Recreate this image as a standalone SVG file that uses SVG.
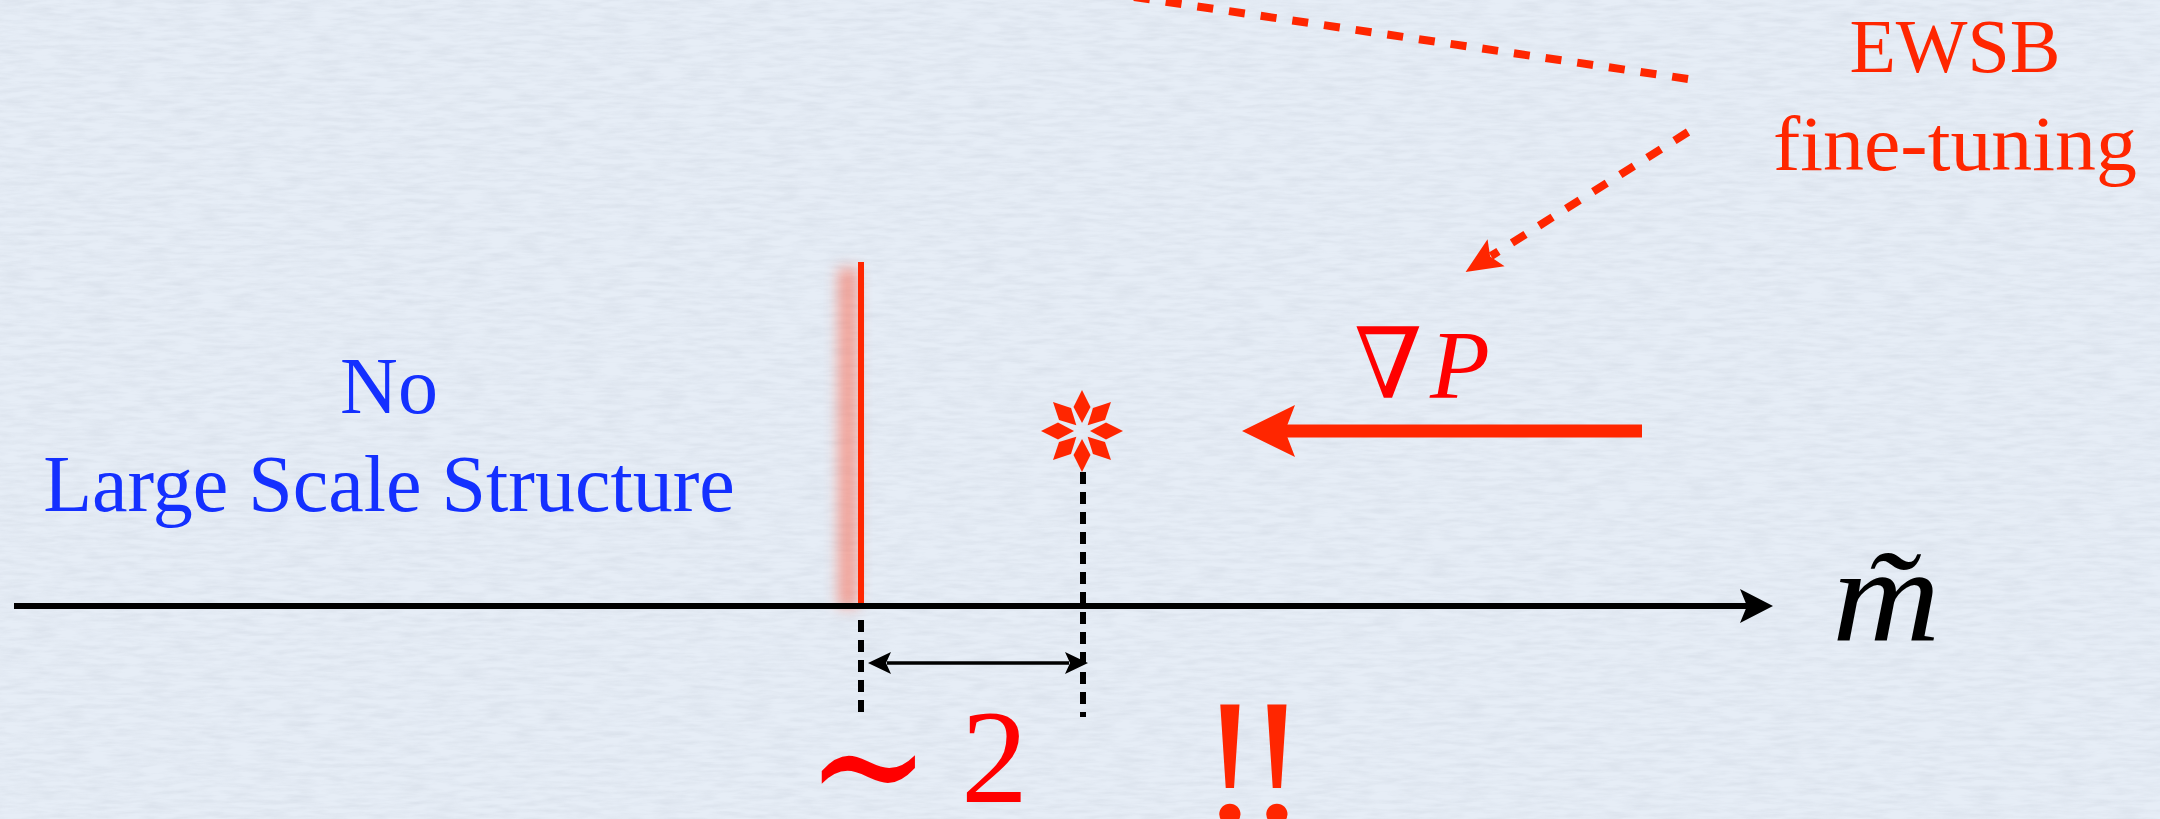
<svg xmlns="http://www.w3.org/2000/svg" width="2160" height="819" viewBox="0 0 2160 819">
  <defs>
    <style>
      .serif { font-family: "Liberation Serif", "DejaVu Serif", serif; }
      .blue { fill: #1430ff; font-size: 80px; }
      .orange { fill: #ff2600; }
      .math { fill: #ff0000; }
      .redDash { fill: none; stroke: #ff2600; stroke-width: 8; stroke-dasharray: 16 16; }
      .blackDash { fill: none; stroke: #000; stroke-width: 6; stroke-dasharray: 12 8; }
    </style>
    <filter id="paper" x="0" y="0" width="100%" height="100%">
      <feTurbulence type="fractalNoise" baseFrequency="0.035 0.22" numOctaves="3" seed="4" result="n"/>
      <feColorMatrix in="n" type="matrix" values="0 0 0 0 0.55  0 0 0 0 0.6  0 0 0 0 0.68  0 0 0 -1.6 1.05"/>
    </filter>
    <filter id="glow" x="-1" y="-0.2" width="3" height="1.4">
      <feGaussianBlur stdDeviation="7"/>
    </filter>
    <marker id="headAxis" viewBox="-12 -18 38 36" refX="0" refY="0" markerWidth="38" markerHeight="36" orient="auto" markerUnits="userSpaceOnUse">
      <path d="M23,0 L-10,-17 L-3,0 L-10,17 Z" fill="#000"/>
    </marker>
    <marker id="headSmall" viewBox="-6 -12 26 24" refX="0" refY="0" markerWidth="26" markerHeight="24" orient="auto-start-reverse" markerUnits="userSpaceOnUse">
      <path d="M19,0 L-4,-11 L1,0 L-4,11 Z" fill="#000"/>
    </marker>
    <marker id="headRedDash" viewBox="-8 -18 42 36" refX="0" refY="0" markerWidth="42" markerHeight="36" orient="auto" markerUnits="userSpaceOnUse">
      <path d="M30,0 L-6,-16 L1,0 L-6,16 Z" fill="#ff2600"/>
    </marker>
    <marker id="headRedBig" viewBox="-12 -28 58 56" refX="0" refY="0" markerWidth="58" markerHeight="56" orient="auto" markerUnits="userSpaceOnUse">
      <path d="M43,0 L-10,-26 L0,0 L-10,26 Z" fill="#ff2600"/>
    </marker>
    <path id="petal" d="M8,0 L24,-8.5 L41,0 L24,8.5 Z"/>
  </defs>

  <rect x="0" y="0" width="2160" height="819" fill="#e6edf6"/>
  <rect x="0" y="0" width="2160" height="819" filter="url(#paper)" opacity="0.35"/>

  <g id="no-lss">
    <text class="serif blue" x="389" y="413" text-anchor="middle">No</text>
    <text class="serif blue" x="389" y="511" text-anchor="middle">Large Scale Structure</text>
  </g>

  <g id="ewsb">
    <text class="serif orange" x="1955" y="72" font-size="76" text-anchor="middle">EWSB</text>
    <text class="serif orange" x="1955" y="170" font-size="78" text-anchor="middle" textLength="364" lengthAdjust="spacingAndGlyphs">fine-tuning</text>
  </g>

  <g id="boundary">
    <rect x="838" y="268" width="20" height="340" fill="#ff5a3c" opacity="0.5" filter="url(#glow)"/>
    <line x1="861" y1="262" x2="861" y2="606" stroke="#ff2600" stroke-width="6"/>
  </g>

  <g id="star" transform="translate(1082,431)" fill="#ff2600">
    <use href="#petal" transform="rotate(-90)"/>
    <use href="#petal" transform="rotate(-45)"/>
    <use href="#petal" transform="rotate(0)"/>
    <use href="#petal" transform="rotate(45)"/>
    <use href="#petal" transform="rotate(90)"/>
    <use href="#petal" transform="rotate(135)"/>
    <use href="#petal" transform="rotate(180)"/>
    <use href="#petal" transform="rotate(225)"/>
  </g>

  <g id="gradP">
    <text class="serif math" x="1354" y="398" font-size="98"><tspan>∇</tspan><tspan x="1430" font-style="italic">P</tspan></text>
  </g>

  <g id="axis-label">
    <text class="serif" x="0" y="0" font-size="134" font-style="italic" fill="#000" transform="translate(1832,640) scale(1.12,1)">m̃</text>
  </g>

  <g id="sim2">
    <text class="math" font-family="DejaVu Serif, serif" font-size="124" x="0" y="0" transform="translate(806,825) scale(1.2,1.43)">∼</text>
    <text class="serif math" x="961" y="802" font-size="134">2</text>
  </g>

  <g id="exclaim">
    <text class="serif orange" x="1200" y="822" font-size="180" letter-spacing="-13">!!</text>
  </g>

  <g id="connectors">
    <line x1="14" y1="606" x2="1750" y2="606" stroke="#000" stroke-width="6" marker-end="url(#headAxis)"/>
    <line class="blackDash" x1="1083" y1="472" x2="1083" y2="717"/>
    <line class="blackDash" x1="861" y1="620" x2="861" y2="714"/>
    <line x1="887" y1="663" x2="1069" y2="663" stroke="#000" stroke-width="3.5" marker-start="url(#headSmall)" marker-end="url(#headSmall)"/>
    <line x1="1642" y1="431" x2="1285" y2="431" stroke="#ff2600" stroke-width="13" marker-end="url(#headRedBig)"/>
    <path class="redDash" d="M1688,79 L1120,-5"/>
    <path class="redDash" d="M1688,132 L1491,256" marker-end="url(#headRedDash)"/>
  </g>
</svg>
